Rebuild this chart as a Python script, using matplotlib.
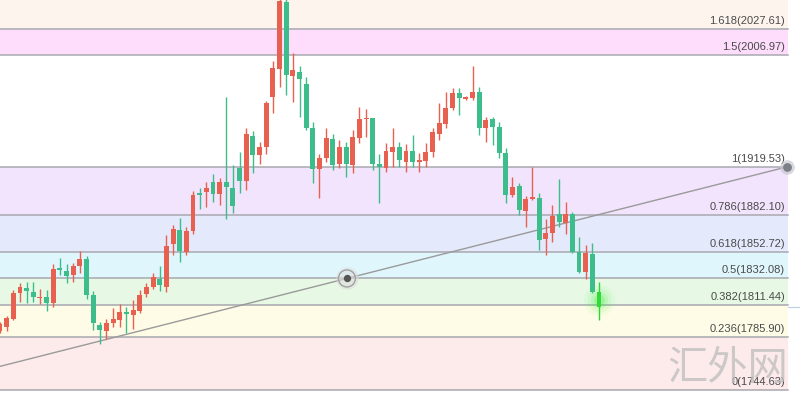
import matplotlib.pyplot as plt
import numpy as np

plt.rcParams["font.family"] = ["Liberation Sans", "DejaVu Sans"]

# candle data (index 0 = leftmost, partly clipped)
opens = [1790.9, 1794.0, 1800.3, 1820.7, 1824.6, 1821.4, 1816.7, 1817.5, 1812.8, 1840.3,
         1837.9, 1834.8, 1841.8, 1847.3, 1819.1, 1795.6, 1790.9, 1797.1, 1799.5, 1805.8,
         1803.4, 1806.5, 1819.9, 1825.4, 1831.6, 1825.4, 1859.1, 1870.0, 1852.8, 1869.3,
         1899.1, 1899.8, 1907.7, 1898.3, 1907.7, 1903.0, 1918.6, 1908.5, 1943.7, 1928.8,
         1935.1, 1974.3, 1996.3, 2048.8, 1990.8, 1993.9, 1984.5, 1950.0, 1917.9, 1926.5,
         1941.4, 1921.8, 1935.1, 1921.0, 1942.2, 1957.1, 1957.8, 1921.8, 1918.6, 1931.2,
         1935.1, 1923.4, 1932.0, 1923.4, 1924.1, 1931.2, 1945.3, 1953.1, 1965.7, 1977.4,
         1972.7, 1973.5, 1978.2, 1950.0, 1957.1, 1950.8, 1930.4, 1897.5, 1904.5, 1884.9,
         1894.3, 1895.1, 1863.0, 1867.7, 1882.6, 1875.5, 1882.6, 1852.8, 1837.1, 1851.2,
         1821.4]
highs = [1797.9, 1802.6, 1823.0, 1828.5, 1829.3, 1829.3, 1823.8, 1823.0, 1843.4, 1848.1,
         1843.4, 1844.2, 1853.6, 1849.7, 1822.2, 1797.9, 1800.3, 1808.9, 1812.0, 1809.7,
         1815.2, 1823.0, 1828.5, 1836.3, 1841.8, 1866.1, 1874.0, 1879.5, 1872.4, 1900.6,
         1903.0, 1907.7, 1913.9, 1910.8, 1974.3, 1921.0, 1931.2, 1950.0, 1947.7, 1939.0,
         1971.2, 2002.5, 2052.0, 2052.0, 2008.8, 1998.6, 1990.0, 1954.7, 1929.6, 1950.0,
         1945.3, 1940.6, 1939.0, 1948.4, 1966.5, 1964.9, 1957.8, 1929.6, 1938.2, 1950.0,
         1939.0, 1937.5, 1944.5, 1930.4, 1938.2, 1950.0, 1969.6, 1978.2, 1981.4, 1981.4,
         1975.1, 1998.6, 1982.1, 1958.6, 1958.6, 1954.7, 1934.3, 1911.6, 1906.9, 1896.7,
         1919.4, 1899.1, 1878.7, 1889.6, 1910.0, 1892.0, 1884.2, 1864.6, 1858.3, 1859.9,
         1829.3]
lows = [1789.3, 1790.9, 1799.5, 1813.6, 1812.8, 1813.6, 1812.0, 1806.5, 1809.7, 1834.8,
        1828.5, 1829.3, 1836.3, 1816.0, 1791.7, 1780.7, 1784.6, 1794.0, 1794.0, 1789.3,
        1792.4, 1805.0, 1817.5, 1823.8, 1822.2, 1821.4, 1850.5, 1845.0, 1850.5, 1866.9,
        1886.5, 1888.1, 1892.0, 1889.6, 1878.7, 1883.4, 1899.1, 1901.4, 1914.7, 1921.8,
        1929.6, 1961.8, 1982.1, 1975.9, 1970.4, 1958.6, 1948.4, 1906.9, 1895.1, 1923.4,
        1917.1, 1918.6, 1911.6, 1914.7, 1938.2, 1942.9, 1917.1, 1891.2, 1915.5, 1919.4,
        1919.4, 1915.5, 1919.4, 1915.5, 1919.4, 1927.3, 1940.6, 1950.0, 1964.1, 1960.2,
        1971.9, 1971.9, 1944.5, 1939.0, 1936.7, 1926.5, 1891.2, 1895.9, 1881.8, 1872.4,
        1893.6, 1854.4, 1850.5, 1860.6, 1872.4, 1866.9, 1852.0, 1836.3, 1831.6, 1820.7,
        1799.5]
closes = [1796.4, 1801.1, 1820.7, 1825.4, 1822.2, 1817.5, 1817.5, 1812.8, 1839.5, 1838.7,
          1834.0, 1841.8, 1847.3, 1819.1, 1797.1, 1791.7, 1797.1, 1800.3, 1805.8, 1804.2,
          1807.3, 1819.1, 1825.4, 1833.2, 1826.9, 1857.5, 1870.8, 1853.6, 1869.3, 1897.5,
          1897.5, 1903.0, 1898.3, 1907.7, 1903.8, 1888.9, 1908.5, 1945.3, 1928.8, 1935.1,
          1969.6, 1997.0, 2049.6, 1991.5, 1995.5, 1988.4, 1950.0, 1917.9, 1926.5, 1942.2,
          1921.0, 1935.1, 1921.8, 1942.9, 1957.1, 1957.8, 1921.8, 1919.4, 1932.0, 1935.1,
          1924.9, 1932.0, 1923.4, 1924.9, 1931.2, 1946.9, 1953.9, 1965.7, 1977.4, 1973.5,
          1974.3, 1978.2, 1950.0, 1956.3, 1950.8, 1930.4, 1897.5, 1903.8, 1885.7, 1894.3,
          1895.9, 1862.2, 1867.7, 1881.0, 1876.3, 1882.6, 1852.8, 1837.1, 1852.0, 1821.4,
          1809.7]

# fibonacci levels
fib_ratios = ["1.618", "1.5", "1", "0.786", "0.618", "0.5", "0.382", "0.236", "0"]
fib_prices = [2027.61, 2006.97, 1919.53, 1882.10, 1852.72, 1832.08, 1811.44, 1785.90, 1744.63]
band_colors = ["#fddcfc", "#ffffff", "#f2e4fd", "#e5e9fc", "#e0f6fd",
               "#e7f9e5", "#fefce6", "#fdebeb"]
top_band = "#fdf4ee"

# trend line anchors (bar index, price)
trend_x = [-14.0, 118.25]
trend_y = [1744.63, 1919.53]

up_col = "#e8604f"
down_col = "#3dbd8b"

y_top, y_bot = 2050.34, 1734.43
x_right = 120.2
band_end = 0.985

fig = plt.figure(figsize=(8, 4.03), dpi=100)
ax = fig.add_axes([0, 0, 1, 1])
ax.set_xlim(0, x_right)
ax.set_ylim(y_bot, y_top)
ax.axis("off")

# bands
ax.axhspan(fib_prices[0], y_top, xmax=band_end, color=top_band, lw=0, zorder=0)
for i, c in enumerate(band_colors):
    ax.axhspan(fib_prices[i + 1], fib_prices[i], xmax=band_end, color=c, lw=0, zorder=0)
for r, p in zip(fib_ratios, fib_prices):
    ax.axhline(p, xmax=band_end, color="#a8a8b0", lw=1.1, zorder=1)
    ax.text(band_end * x_right - 0.45, p + 2.4, f"{r}({p:.2f})", ha="right", va="bottom",
            fontsize=8, color="#4a4a4a", zorder=5)

# candles
o = np.array(opens)
h = np.array(highs)
l = np.array(lows)
c = np.array(closes)
x = np.arange(len(o))
cols = np.where(c >= o, up_col, down_col).tolist()
cols[-1] = "#2fd43a"
bottom = np.minimum(o, c)
height = np.maximum(np.abs(c - o), 0.9)
ax.vlines(x, l, h, colors=cols, lw=1.0, zorder=3)
ax.bar(x, height, bottom=bottom, width=0.74, color=cols, lw=0, zorder=4)

# glow on last candle
gx, gy = x[-1], (o[-1] + c[-1]) / 2
for s, a in [(500, 0.06), (300, 0.08), (150, 0.12), (60, 0.2)]:
    ax.scatter([gx], [gy], s=s, color="#33ee33", alpha=a, lw=0, zorder=5)

# current price line on the right
ax.axhline(c[-1], xmin=band_end, xmax=1, color="#b9cfe6", lw=0.8, zorder=1)

# trend line with handles
ax.plot(trend_x, trend_y, color="#9a9a9a", lw=1.0, zorder=2)
mid_x, mid_y = np.mean(trend_x), np.mean(trend_y)
ax.scatter([mid_x], [mid_y], s=260, color="#dddddd", alpha=0.6, lw=0, zorder=6)
ax.scatter([mid_x], [mid_y], s=150, facecolor="none", edgecolor="#a0a0a0", lw=1.0, zorder=6)
ax.scatter([mid_x], [mid_y], s=28, color="#555555", lw=0, zorder=7)
ax.scatter([trend_x[1]], [trend_y[1]], s=110, color="#c8c8d0", alpha=0.7, lw=0, zorder=6)
ax.scatter([trend_x[1]], [trend_y[1]], s=40, color="#7d7f88", lw=0, zorder=7)

# watermark
ax.text(band_end * x_right, 1745.5, "汇外网", ha="right", va="bottom", fontsize=29,
        color="#bdbdbd", alpha=0.75, family=["Noto Sans CJK SC", "DejaVu Sans"],
        fontweight="light", zorder=8)

fig.savefig("out.png", dpi=100)
